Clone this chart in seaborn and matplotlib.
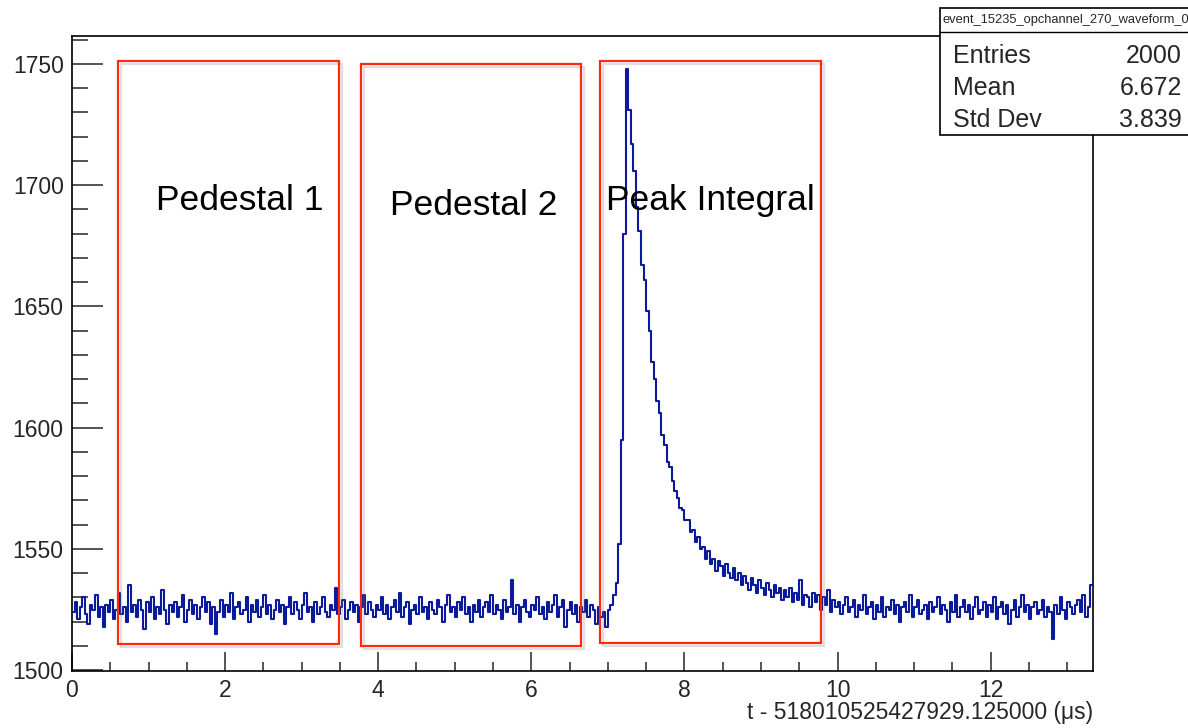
import numpy as np
import pandas as pd
import matplotlib
matplotlib.use("Agg")
import matplotlib.pyplot as plt
import matplotlib.patheffects as pe
from matplotlib.patches import Rectangle
from matplotlib.ticker import MultipleLocator
import seaborn as sns

# waveform samples (ADC counts), 400 samples over the 13.333 us window
adc_counts = [
    1524, 1528, 1521, 1526, 1530, 1523, 1519, 1527, 1525, 1531, 1522, 1526, 1518, 1527, 1524, 1529, 1521, 1525, 1532, 1523,
    1526, 1520, 1535, 1524, 1527, 1522, 1529, 1525, 1517, 1528, 1524, 1530, 1521, 1526, 1523, 1533, 1525, 1519, 1527, 1524,
    1528, 1522, 1526, 1531, 1520, 1525, 1529, 1523, 1527, 1521, 1526, 1530, 1524, 1528, 1519, 1526, 1515, 1524, 1529, 1522,
    1527, 1524, 1532, 1521, 1526, 1528, 1523, 1525, 1530, 1520, 1527, 1524, 1529, 1522, 1526, 1531, 1523, 1527, 1521, 1525,
    1529, 1524, 1527, 1519, 1526, 1530, 1523, 1528, 1525, 1521, 1527, 1532, 1524, 1526, 1520, 1528, 1523, 1526, 1530, 1524,
    1522, 1527, 1525, 1534, 1523, 1526, 1529, 1521, 1525, 1528, 1524, 1527, 1520, 1526, 1531, 1523, 1528, 1525, 1522, 1527,
    1525, 1530, 1523, 1527, 1521, 1526, 1529, 1524, 1532, 1522, 1526, 1528, 1519, 1525, 1527, 1523, 1530, 1524, 1526, 1521,
    1528, 1525, 1523, 1529, 1526, 1520, 1527, 1531, 1524, 1526, 1522, 1528, 1525, 1530, 1523, 1526, 1520, 1527, 1524, 1529,
    1522, 1526, 1528, 1524, 1531, 1523, 1527, 1525, 1521, 1529, 1524, 1526, 1537, 1523, 1527, 1520, 1526, 1529, 1524, 1522,
    1527, 1525, 1530, 1523, 1526, 1521, 1528, 1524, 1527, 1531, 1522, 1526, 1529, 1518, 1525, 1528, 1523, 1527, 1520, 1526,
    1524, 1529, 1522, 1527, 1525, 1519, 1526, 1522, 1524, 1518, 1525, 1527, 1531, 1536, 1552, 1595, 1680, 1748, 1731, 1717,
    1706, 1691, 1681, 1667, 1661, 1648, 1640, 1627, 1620, 1611, 1606, 1597, 1593, 1586, 1584, 1578, 1574, 1571, 1567, 1566,
    1562, 1562, 1557, 1558, 1553, 1555, 1550, 1551, 1546, 1549, 1544, 1546, 1541, 1545, 1543, 1539, 1544, 1540, 1538, 1542,
    1537, 1540, 1535, 1539, 1536, 1533, 1538, 1535, 1532, 1537, 1534, 1531, 1536, 1533, 1530, 1535, 1532, 1534, 1529, 1533,
    1530, 1534, 1528, 1532, 1529, 1537, 1527, 1531, 1530, 1526, 1532, 1528, 1531, 1525, 1530, 1527, 1533, 1524, 1529, 1526,
    1528, 1523, 1527, 1530, 1524, 1526, 1529, 1522, 1527, 1525, 1531, 1523, 1526, 1528, 1521, 1527, 1524, 1530, 1522, 1526,
    1525, 1529, 1523, 1527, 1520, 1526, 1528, 1524, 1531, 1522, 1526, 1529, 1523, 1525, 1527, 1521, 1528, 1524, 1526, 1530,
    1523, 1527, 1525, 1520, 1528, 1524, 1531, 1522, 1526, 1529, 1524, 1527, 1521, 1526, 1530, 1523, 1525, 1528, 1522, 1527,
    1524, 1530, 1521, 1526, 1528, 1523, 1527, 1519, 1525, 1529, 1522, 1526, 1531, 1524, 1527, 1521, 1526, 1528, 1523, 1525,
    1529, 1522, 1526, 1524, 1513, 1527, 1523, 1530, 1525, 1521, 1528, 1526, 1523, 1527, 1529, 1524, 1531, 1522, 1526, 1535,
]
t_window = 13.3333  # us

# integration windows (t start, t end, adc low, adc high) and labels
box_names = ["Pedestal 1", "Pedestal 2", "Peak Integral"]
box_t0 = [0.605, 3.775, 6.897]
box_t1 = [3.488, 6.649, 9.784]
box_lo = [1510.8, 1510.0, 1511.2]
box_hi = [1751.1, 1749.9, 1751.1]
label_t = [2.195, 5.245, 8.334]
label_adc = [1689.7, 1687.6, 1689.7]

# stats box
stats_title = "event_15235_opchannel_270_waveform_0"
stats_keys = ["Entries", "Mean", "Std Dev"]
stats_vals = ["2000", "6.672", "3.839"]
xlabel = "t - 518010525427929.125000 (\u03bcs)"

sns.set_style("ticks")
plt.rcParams["font.family"] = ["Liberation Sans", "DejaVu Sans"]

n = len(adc_counts)
dt = t_window / n
df = pd.DataFrame({"t": np.arange(n + 1) * dt,
                   "adc": adc_counts + [adc_counts[-1]]})

W, H = 1188, 728
fig = plt.figure(figsize=(11.88, 7.28), dpi=100)
ax = fig.add_axes([72 / W, 1 - 670.7 / H, (1092.7 - 72) / W, (670.7 - 35.6) / H])

sns.lineplot(data=df, x="t", y="adc", drawstyle="steps-post", color="#0a1a9a",
             linewidth=1.5, ax=ax, zorder=3)

ax.set_xlim(0, t_window)
ax.set_ylim(1499.8, 1761.7)

for i in range(len(box_names)):
    r = Rectangle((box_t0[i], box_lo[i]), box_t1[i] - box_t0[i], box_hi[i] - box_lo[i],
                  fill=False, edgecolor="#ff2a0f", linewidth=1.6, zorder=4)
    r.set_path_effects([pe.SimpleLineShadow(offset=(2, -2), shadow_color="gray", alpha=0.25),
                        pe.Normal()])
    ax.add_patch(r)
    ax.text(label_t[i], label_adc[i], box_names[i], ha="center", va="baseline",
            fontsize=25.5, color="black", zorder=5)

ax.xaxis.set_major_locator(MultipleLocator(2))
ax.xaxis.set_minor_locator(MultipleLocator(0.5))
ax.yaxis.set_major_locator(MultipleLocator(50))
ax.yaxis.set_minor_locator(MultipleLocator(10))
ax.tick_params(axis="y", which="major", direction="in", length=22, width=1.1, labelsize=16.5, pad=6)
ax.tick_params(axis="y", which="minor", direction="in", length=11.5, width=1.1)
ax.tick_params(axis="x", which="major", direction="in", length=13.7, width=1.1, labelsize=16.5, pad=6)
ax.tick_params(axis="x", which="minor", direction="in", length=6.5, width=1.1)
for s in ax.spines.values():
    s.set_linewidth(1.2)
    s.set_color("black")

ax.set_ylabel("")
ax.set_xlabel("")
fig.text(1092.7 / W, 1 - 719 / H, xlabel, ha="right", va="baseline", fontsize=16.5)

# stats box in figure pixels
bx0, bx1 = 940 / W, 1.02
by_top, by_sep, by_bot = 1 - 8 / H, 1 - 32 / H, 1 - 135 / H
fig.add_artist(Rectangle((bx0, by_bot), bx1 - bx0, by_top - by_bot, transform=fig.transFigure,
                         facecolor="white", edgecolor="black", linewidth=1.2, zorder=10))
fig.add_artist(plt.Line2D([bx0, bx1], [by_sep, by_sep], transform=fig.transFigure,
                          color="black", linewidth=1.0, zorder=11))
fig.text(1066 / W, 1 - 20 / H, stats_title, ha="center", va="center", fontsize=9.3, zorder=12)
row_y = [56, 88, 120]
for k, v, yy in zip(stats_keys, stats_vals, row_y):
    fig.text(953 / W, 1 - yy / H, k, ha="left", va="center", fontsize=18, zorder=12)
    fig.text(1182 / W, 1 - yy / H, v, ha="right", va="center", fontsize=18, zorder=12)

fig.savefig("out.png", dpi=100, facecolor="white")
